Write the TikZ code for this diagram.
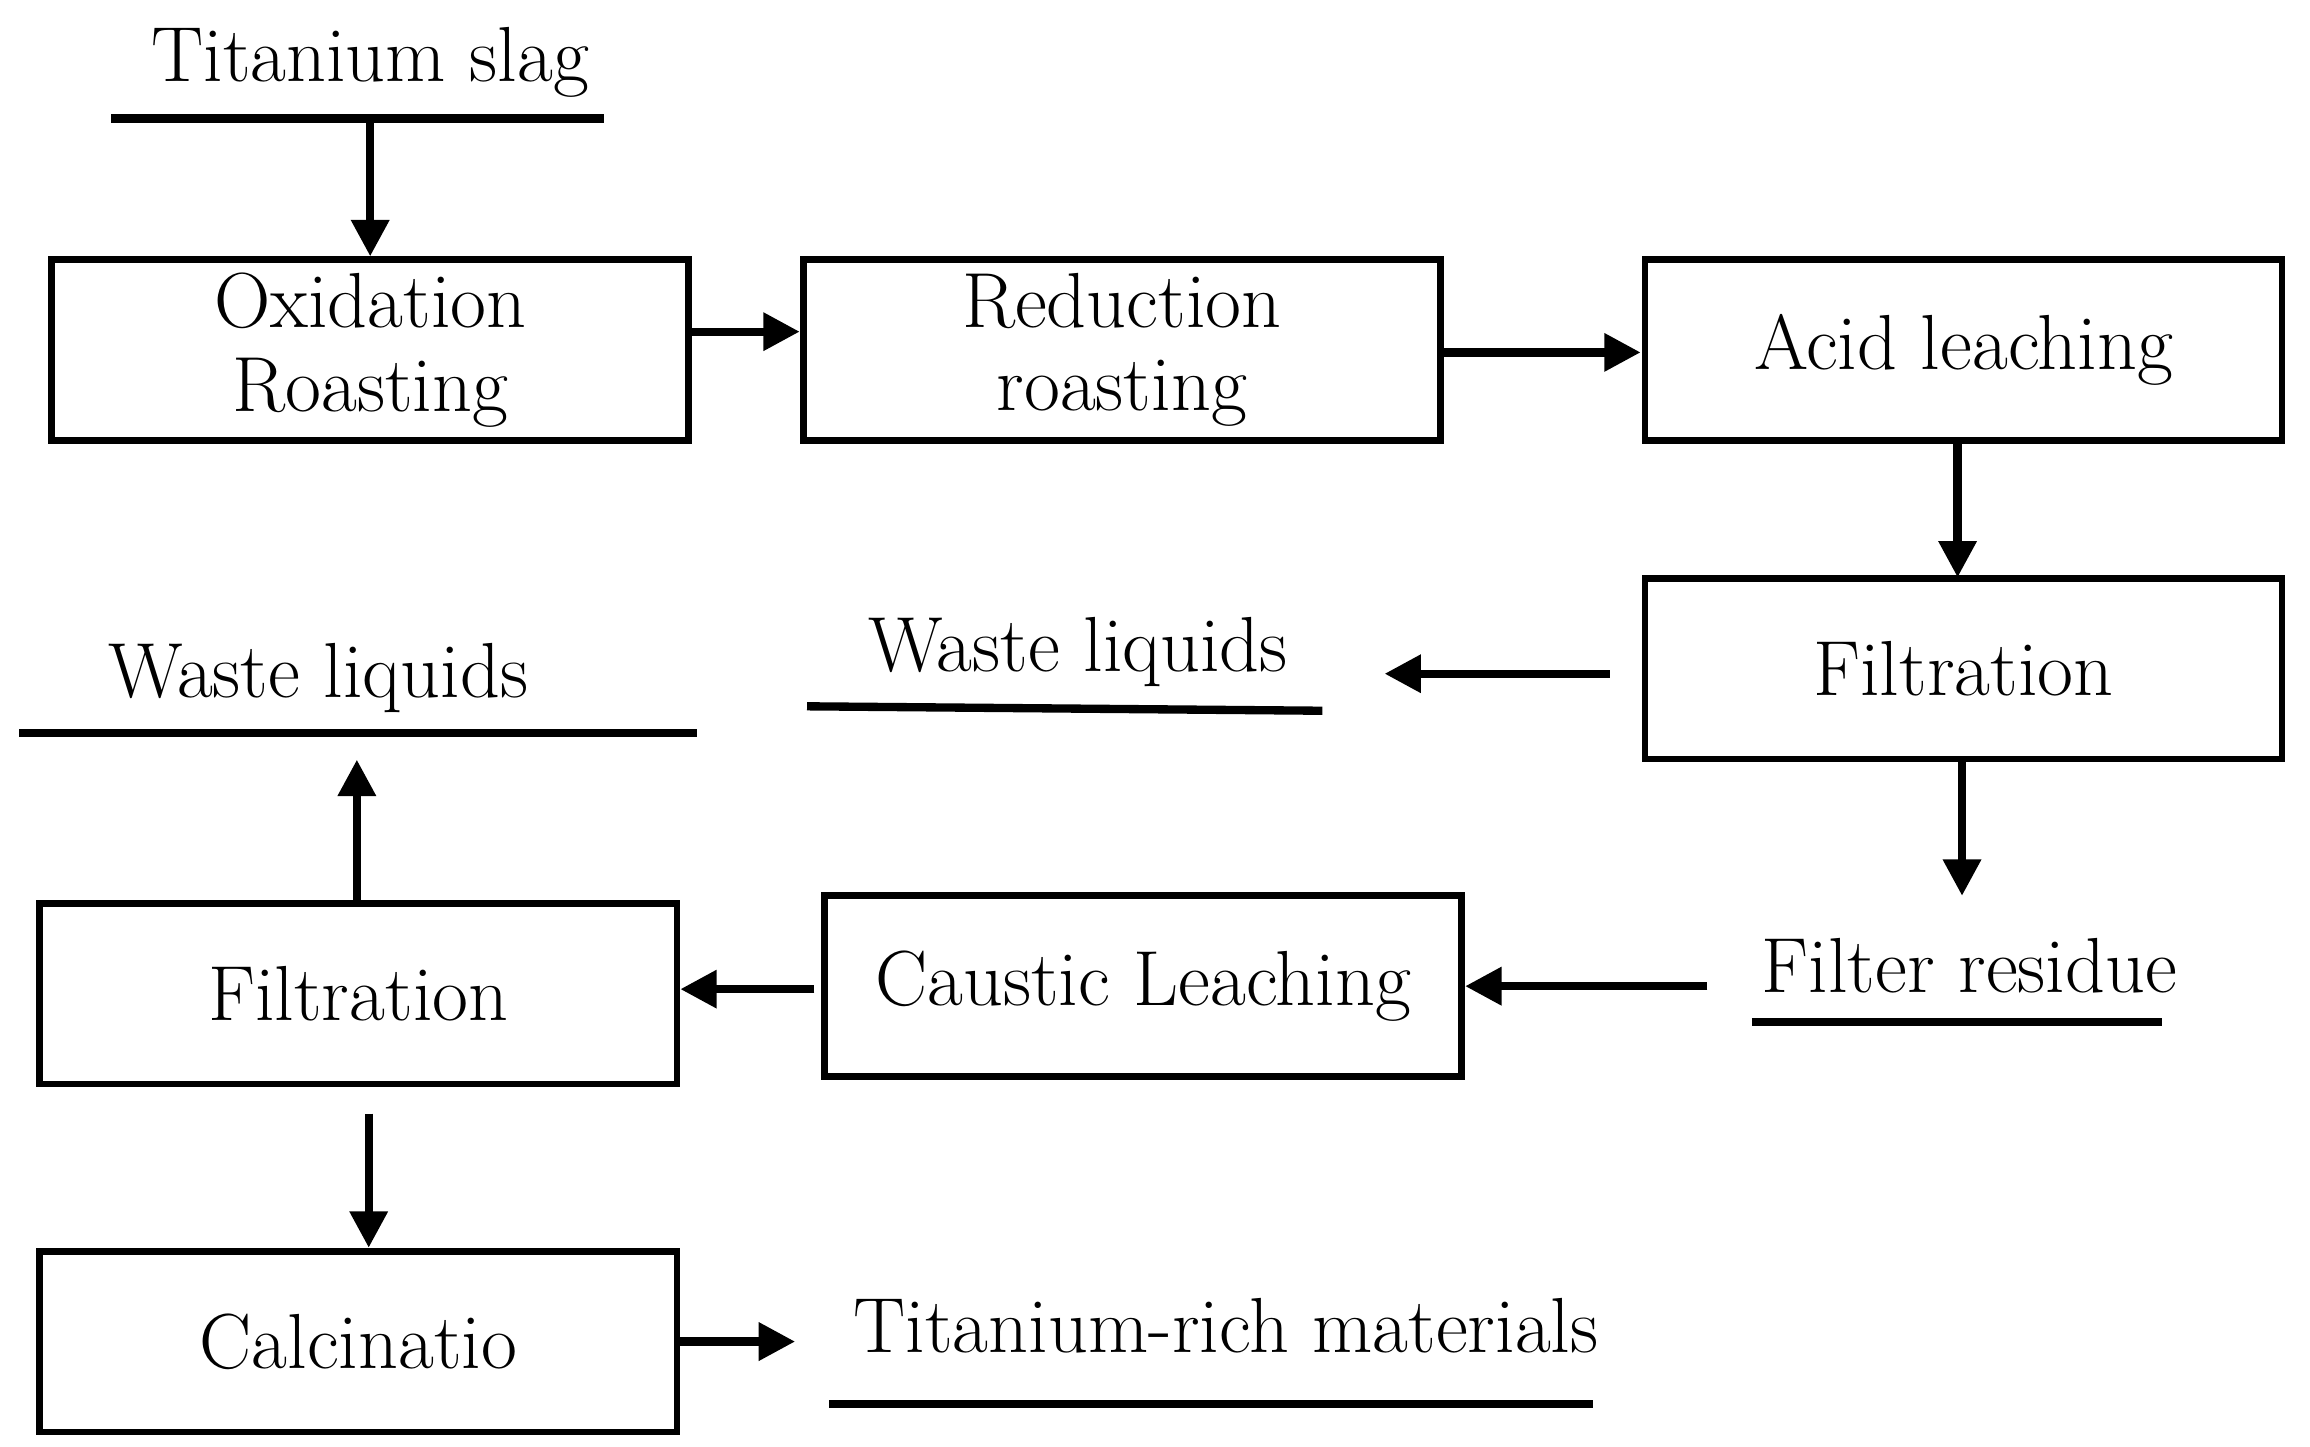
\documentclass[tikz,border=0pt]{standalone}
\usetikzlibrary{arrows.meta}
\begin{document}
\begin{tikzpicture}[x=0.01cm,y=-0.01cm,
  box/.style={draw,line width=1.3pt,minimum width=4.3cm,minimum height=1.22cm,inner sep=0pt,align=center,font=\fontsize{15}{17}\selectfont},
  lbl/.style={inner sep=0pt,font=\fontsize{15}{17}\selectfont},
  ul/.style={line width=1.6pt},
  arr/.style={line width=1.6pt,-{Triangle[length=7pt,width=7pt]}}]
\useasboundingbox (0,0) rectangle (1560,977);
\node[box] (ox) at (250,236.5) {Oxidation\\[-1pt]Roasting};
\node[box] (red) at (757.5,236.5) {Reduction\\[-1pt]roasting};
\node[box] (acid) at (1326,236.5) {Acid leaching};
\node[box] (filt1) at (1326,451.5) {Filtration};
\node[box] (caus) at (772,666) {Caustic Leaching};
\node[box] (filt2) at (242,671) {Filtration};
\node[box] (calc) at (242,906) {Calcinatio};
\node[lbl] (slag) at (250,42) {Titanium slag};
\node[lbl] (wl1) at (728,440) {Waste liquids};
\node[lbl] (wl2) at (215,458) {Waste liquids};
\node[lbl] (fr) at (1330,652) {Filter residue};
\node[lbl] (trm) at (828,895) {Titanium-rich materials};
\draw[ul] (75,80) -- (408,80);
\draw[ul] (545,477) -- (893,480);
\draw[ul] (13,495) -- (471,495);
\draw[ul] (1183,690) -- (1460,690);
\draw[ul] (560,948) -- (1076,948);
\coordinate (s0) at (250,80);
\coordinate (w1a) at (1087,455); \coordinate (w1b) at (935,455);
\coordinate (fra) at (1325,605);
\coordinate (frb) at (1153,666);
\coordinate (w2) at (241,513);
\coordinate (tr) at (537,906);
\draw[arr] (s0) -- (ox.north);
\draw[arr] (ox.east |- 0,224) -- (red.west |- 0,224);
\draw[arr] (red.east |- 0,238) -- (1108,238);
\draw[arr] (1322,298) -- (1322,390);
\draw[arr] (w1a) -- (w1b);
\draw[arr] (1325,513) -- (fra);
\draw[arr] (frb) -- (caus.east);
\draw[arr] (550,668) -- (filt2.east |- 0,668);
\draw[arr] (241,612) -- (w2);
\draw[arr] (249,752) -- (calc.north -| 249,0);
\draw[arr] (calc.east) -- (tr);
\end{tikzpicture}
\end{document}
